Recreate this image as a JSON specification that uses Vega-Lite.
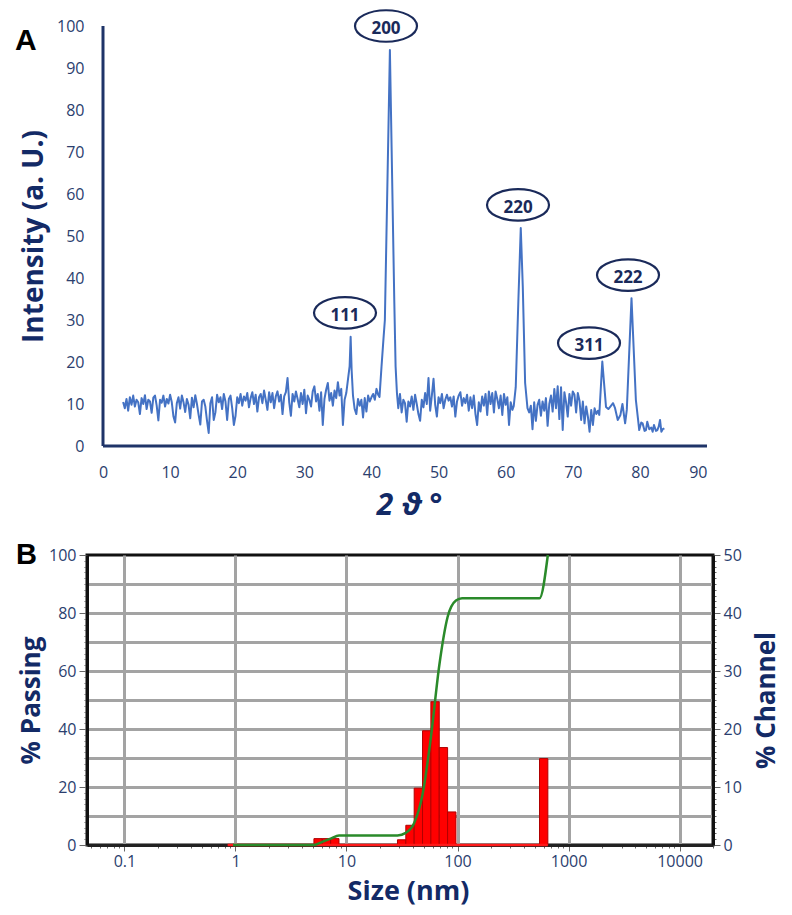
{
  "$schema": "https://vega.github.io/schema/vega-lite/v6.json",
  "padding": {"left": 14, "top": 5, "right": 5, "bottom": 5},
  "background": "white",
  "bounds": "flush",
  "spacing": 109,
  "config": {
    "font": "Open Sans",
    "view": {"stroke": null},
    "axis": {
      "labelFont": "Open Sans",
      "labelFontSize": 16,
      "labelColor": "#2b3e6e",
      "titleFont": "Open Sans",
      "titleColor": "#132a66",
      "titleFontWeight": "bold"
    }
  },
  "datasets": {
    "xrd": [
      {"t":3.00,"i":10.5},{"t":3.25,"i":9.0},{"t":3.50,"i":11.2},{"t":3.75,"i":8.4},{"t":4.00,"i":11.6},{"t":4.25,"i":9.8},{"t":4.50,"i":12.0},{"t":4.75,"i":9.4},
      {"t":5.00,"i":11.0},{"t":5.25,"i":10.4},{"t":5.50,"i":7.6},{"t":5.75,"i":11.4},{"t":6.00,"i":10.0},{"t":6.25,"i":12.1},{"t":6.50,"i":8.8},{"t":6.75,"i":11.0},
      {"t":7.00,"i":10.6},{"t":7.25,"i":7.9},{"t":7.50,"i":11.5},{"t":7.75,"i":12.0},{"t":8.00,"i":9.6},{"t":8.25,"i":6.1},{"t":8.50,"i":11.0},{"t":8.75,"i":10.3},
      {"t":9.00,"i":12.0},{"t":9.25,"i":9.4},{"t":9.50,"i":11.2},{"t":9.75,"i":10.1},{"t":10.00,"i":12.2},{"t":10.25,"i":10.4},{"t":10.50,"i":7.0},{"t":10.75,"i":5.6},
      {"t":11.00,"i":10.2},{"t":11.25,"i":11.6},{"t":11.50,"i":8.9},{"t":11.75,"i":12.0},{"t":12.00,"i":10.4},{"t":12.25,"i":8.1},{"t":12.50,"i":11.2},{"t":12.75,"i":9.8},
      {"t":13.00,"i":6.6},{"t":13.25,"i":11.5},{"t":13.50,"i":9.2},{"t":13.75,"i":12.1},{"t":14.00,"i":10.0},{"t":14.25,"i":7.4},{"t":14.50,"i":5.1},{"t":14.75,"i":10.6},
      {"t":15.00,"i":11.0},{"t":15.25,"i":9.4},{"t":15.50,"i":6.0},{"t":15.75,"i":3.1},{"t":16.00,"i":10.2},{"t":16.25,"i":11.6},{"t":16.50,"i":6.2},{"t":16.75,"i":8.0},
      {"t":17.00,"i":12.2},{"t":17.25,"i":10.4},{"t":17.50,"i":11.6},{"t":17.75,"i":8.8},{"t":18.00,"i":12.4},{"t":18.25,"i":10.6},{"t":18.50,"i":6.2},{"t":18.75,"i":11.2},
      {"t":19.00,"i":12.0},{"t":19.25,"i":9.0},{"t":19.50,"i":5.0},{"t":19.75,"i":7.2},{"t":20.00,"i":11.6},{"t":20.25,"i":10.2},{"t":20.50,"i":12.4},{"t":20.75,"i":9.6},
      {"t":21.00,"i":11.8},{"t":21.25,"i":10.8},{"t":21.50,"i":12.6},{"t":21.75,"i":9.2},{"t":22.00,"i":11.4},{"t":22.25,"i":12.8},{"t":22.50,"i":10.0},{"t":22.75,"i":12.2},
      {"t":23.00,"i":8.2},{"t":23.25,"i":11.6},{"t":23.50,"i":12.4},{"t":23.75,"i":10.2},{"t":24.00,"i":13.2},{"t":24.25,"i":11.0},{"t":24.50,"i":8.6},{"t":24.75,"i":12.8},
      {"t":25.00,"i":10.4},{"t":25.25,"i":12.6},{"t":25.50,"i":9.0},{"t":25.75,"i":11.8},{"t":26.00,"i":13.0},{"t":26.25,"i":10.6},{"t":26.50,"i":12.2},{"t":26.75,"i":7.6},
      {"t":27.00,"i":11.8},{"t":27.25,"i":12.8},{"t":27.50,"i":16.2},{"t":27.75,"i":10.4},{"t":28.00,"i":7.2},{"t":28.25,"i":12.4},{"t":28.50,"i":10.6},{"t":28.75,"i":13.0},
      {"t":29.00,"i":11.2},{"t":29.25,"i":9.2},{"t":29.50,"i":12.6},{"t":29.75,"i":10.0},{"t":30.00,"i":13.4},{"t":30.25,"i":7.8},{"t":30.50,"i":12.0},{"t":30.75,"i":11.0},
      {"t":31.00,"i":9.4},{"t":31.25,"i":13.0},{"t":31.50,"i":14.2},{"t":31.75,"i":10.6},{"t":32.00,"i":12.4},{"t":32.25,"i":8.4},{"t":32.50,"i":12.8},{"t":32.75,"i":5.0},
      {"t":33.00,"i":11.2},{"t":33.25,"i":13.4},{"t":33.50,"i":15.0},{"t":33.75,"i":10.8},{"t":34.00,"i":12.6},{"t":34.25,"i":9.6},{"t":34.50,"i":13.2},{"t":34.75,"i":11.4},
      {"t":35.00,"i":15.2},{"t":35.25,"i":12.0},{"t":35.50,"i":13.6},{"t":35.75,"i":5.0},{"t":36.00,"i":11.0},{"t":36.25,"i":12.6},{"t":36.50,"i":15.8},{"t":36.75,"i":19.0},
      {"t":36.90,"i":26.0},{"t":37.05,"i":18.0},{"t":37.25,"i":12.0},{"t":37.50,"i":8.8},{"t":37.75,"i":7.6},{"t":38.00,"i":11.2},{"t":38.25,"i":9.6},{"t":38.50,"i":11.0},{"t":38.75,"i":6.8},
      {"t":39.00,"i":11.4},{"t":39.25,"i":8.2},{"t":39.50,"i":12.0},{"t":39.75,"i":10.6},{"t":40.00,"i":11.6},{"t":40.25,"i":12.4},{"t":40.50,"i":11.0},{"t":40.75,"i":13.6},
      {"t":41.00,"i":12.2},{"t":41.20,"i":11.7},{"t":41.50,"i":18.9},{"t":41.80,"i":25.7},{"t":42.00,"i":30.0},{"t":42.75,"i":94.3},{"t":43.40,"i":34.8},{"t":43.60,"i":18.9},{"t":43.80,"i":12.6},
      {"t":44.00,"i":9.0},{"t":44.25,"i":12.4},{"t":44.50,"i":8.0},{"t":44.75,"i":11.0},{"t":45.00,"i":10.2},{"t":45.25,"i":5.8},{"t":45.50,"i":10.6},{"t":45.75,"i":9.4},
      {"t":46.00,"i":11.8},{"t":46.25,"i":8.6},{"t":46.50,"i":12.2},{"t":46.75,"i":10.0},{"t":47.00,"i":7.6},{"t":47.25,"i":6.0},{"t":47.50,"i":11.0},{"t":47.75,"i":9.2},
      {"t":48.00,"i":12.6},{"t":48.25,"i":10.0},{"t":48.50,"i":16.2},{"t":48.75,"i":8.4},{"t":49.00,"i":12.0},{"t":49.25,"i":16.0},{"t":49.50,"i":9.8},{"t":49.75,"i":7.0},
      {"t":50.00,"i":11.6},{"t":50.25,"i":10.2},{"t":50.50,"i":12.4},{"t":50.75,"i":9.0},{"t":51.00,"i":11.0},{"t":51.25,"i":12.2},{"t":51.50,"i":10.8},{"t":51.75,"i":11.6},
      {"t":52.00,"i":9.4},{"t":52.25,"i":11.8},{"t":52.50,"i":7.0},{"t":52.75,"i":10.6},{"t":53.00,"i":12.0},{"t":53.25,"i":12.8},{"t":53.50,"i":9.6},{"t":53.75,"i":11.4},
      {"t":54.00,"i":10.2},{"t":54.25,"i":12.2},{"t":54.50,"i":8.4},{"t":54.75,"i":11.6},{"t":55.00,"i":9.0},{"t":55.25,"i":12.0},{"t":55.50,"i":7.6},{"t":55.75,"i":5.0},
      {"t":56.00,"i":10.4},{"t":56.25,"i":8.2},{"t":56.50,"i":11.8},{"t":56.75,"i":9.6},{"t":57.00,"i":12.4},{"t":57.25,"i":7.4},{"t":57.50,"i":13.0},{"t":57.75,"i":10.0},
      {"t":58.00,"i":12.6},{"t":58.25,"i":8.0},{"t":58.50,"i":13.0},{"t":58.75,"i":11.2},{"t":59.00,"i":9.0},{"t":59.25,"i":12.0},{"t":59.50,"i":7.4},{"t":59.75,"i":12.4},
      {"t":60.00,"i":9.8},{"t":60.25,"i":11.6},{"t":60.50,"i":5.0},{"t":60.75,"i":10.4},{"t":61.00,"i":8.6},{"t":61.20,"i":9.5},{"t":61.50,"i":14.0},{"t":61.90,"i":35.0},
      {"t":62.25,"i":51.9},{"t":62.55,"i":38.0},{"t":62.90,"i":15.0},{"t":63.25,"i":9.0},
      {"t":63.50,"i":8.0},{"t":63.75,"i":9.6},{"t":64.00,"i":4.0},{"t":64.25,"i":10.4},{"t":64.50,"i":6.0},{"t":64.75,"i":9.8},{"t":65.00,"i":11.0},{"t":65.25,"i":7.2},
      {"t":65.50,"i":10.6},{"t":65.75,"i":8.4},{"t":66.00,"i":11.4},{"t":66.25,"i":4.8},{"t":66.50,"i":10.0},{"t":66.75,"i":12.0},{"t":67.00,"i":8.2},{"t":67.25,"i":13.6},
      {"t":67.50,"i":9.0},{"t":67.75,"i":14.2},{"t":68.00,"i":6.4},{"t":68.25,"i":14.0},{"t":68.50,"i":3.8},{"t":68.75,"i":12.8},{"t":69.00,"i":10.4},{"t":69.25,"i":7.0},
      {"t":69.50,"i":12.4},{"t":69.75,"i":9.6},{"t":70.00,"i":13.0},{"t":70.25,"i":12.2},{"t":70.50,"i":8.0},{"t":70.75,"i":12.6},{"t":71.00,"i":10.8},{"t":71.25,"i":6.2},
      {"t":71.50,"i":10.6},{"t":71.75,"i":5.4},{"t":72.00,"i":9.4},{"t":72.25,"i":7.0},{"t":72.50,"i":3.4},{"t":72.75,"i":8.6},{"t":73.00,"i":5.0},{"t":73.25,"i":9.0},
      {"t":73.50,"i":7.6},{"t":73.75,"i":8.4},{"t":73.95,"i":7.4},{"t":74.40,"i":20.1},{"t":74.95,"i":9.3},{"t":75.30,"i":8.8},{"t":75.60,"i":9.4},{"t":76.00,"i":10.2},
      {"t":76.30,"i":9.0},{"t":76.70,"i":6.2},{"t":77.10,"i":7.4},{"t":77.40,"i":10.0},{"t":77.80,"i":5.4},{"t":78.05,"i":8.6},{"t":78.75,"i":35.2},{"t":79.40,"i":11.0},
      {"t":79.70,"i":6.7},{"t":79.90,"i":3.8},{"t":80.20,"i":5.6},{"t":80.40,"i":5.4},{"t":80.70,"i":3.6},{"t":80.90,"i":3.8},{"t":81.10,"i":5.8},{"t":81.40,"i":4.0},
      {"t":81.70,"i":4.4},{"t":81.90,"i":3.4},{"t":82.10,"i":5.0},{"t":82.40,"i":3.6},{"t":82.60,"i":3.8},{"t":82.80,"i":4.6},{"t":83.00,"i":6.2},{"t":83.20,"i":3.4},
      {"t":83.40,"i":4.0},{"t":83.65,"i":4.2}
    ],
    "hkl": [
      {"t":36.06,"i":31.7,"hkl":"111"},
      {"t":42.17,"i":100,"hkl":"200"},
      {"t":61.84,"i":57.4,"hkl":"220"},
      {"t":72.42,"i":24.5,"hkl":"311"},
      {"t":78.23,"i":40.7,"hkl":"222"}
    ],
    "axesA": [{"t":0,"t2":90,"i":0,"i2":100}],
    "labelA": [{"t":-11.5,"i":96.4,"lab":"A"}],
    "psd": [
      {"lo":5.09,"hi":6.05,"pct":1.1},
      {"lo":6.05,"hi":7.20,"pct":1.1},
      {"lo":7.20,"hi":8.56,"pct":1.1},
      {"lo":28.78,"hi":34.22,"pct":0.9},
      {"lo":34.22,"hi":40.70,"pct":3.4},
      {"lo":40.70,"hi":48.40,"pct":9.8},
      {"lo":48.40,"hi":57.55,"pct":19.7},
      {"lo":57.55,"hi":68.44,"pct":24.7},
      {"lo":68.44,"hi":81.39,"pct":16.8},
      {"lo":81.39,"hi":96.79,"pct":5.7},
      {"lo":547.5,"hi":651.0,"pct":14.9}
    ],
    "base": [{"lo":0.85,"hi":651,"pct":0}],
    "cum": [
      {"lo":0.95,"p":0},{"lo":5.09,"p":0},{"lo":6.05,"p":1.1},{"lo":7.2,"p":2.2},{"lo":8.56,"p":3.3},
      {"lo":28.78,"p":3.3},{"lo":34.22,"p":4.2},{"lo":40.7,"p":7.6},{"lo":48.4,"p":17.4},{"lo":57.55,"p":37.1},
      {"lo":68.44,"p":61.8},{"lo":81.39,"p":78.6},{"lo":96.79,"p":84.3},{"lo":110,"p":85.1},{"lo":547.5,"p":85.1},{"lo":651,"p":100}
    ],
    "labelB": [{"lo":0.0131,"p":100,"lab":"B"}]
  },
  "vconcat": [
    {
      "width": 620,
      "height": 420,
      "layer": [
        {
          "data": {"name": "xrd"},
          "mark": {"type": "line", "color": "#4472c4", "strokeWidth": 2, "strokeJoin": "round"},
          "encoding": {
            "x": {
              "field": "t", "type": "quantitative",
              "scale": {"domain": [-2.384, 90], "nice": false, "zero": false},
              "axis": {
                "values": [0,10,20,30,40,50,60,70,80,90],
                "format": "d",
                "domain": false, "ticks": false, "grid": false,
                "labelPadding": 18,
                "title": "2 ϑ °", "titleFontSize": 30, "titleFontStyle": "italic",
                "titlePadding": 10, "titleX": 322
              }
            },
            "y": {
              "field": "i", "type": "quantitative",
              "scale": {"domain": [0, 100], "nice": false, "zero": false},
              "axis": {
                "values": [0,10,20,30,40,50,60,70,80,90,100],
                "tickCount": 1000,
                "format": "d",
                "domain": false, "ticks": false, "grid": false,
                "labelPadding": 3,
                "title": "Intensity (a. U.)", "titleFontSize": 28, "titlePadding": 8
              }
            }
          }
        },
        {
          "data": {"name": "axesA"},
          "mark": {"type": "rule", "color": "#1f3468", "strokeWidth": 3},
          "encoding": {
            "x": {"field": "t", "type": "quantitative", "scale": {"domain": [-2.384, 90], "nice": false, "zero": false}},
            "x2": {"field": "t2"},
            "y": {"field": "i", "type": "quantitative", "scale": {"domain": [0, 100], "nice": false, "zero": false}}
          }
        },
        {
          "data": {"name": "axesA"},
          "mark": {"type": "rule", "color": "#1f3468", "strokeWidth": 3},
          "encoding": {
            "x": {"field": "t", "type": "quantitative", "scale": {"domain": [-2.384, 90], "nice": false, "zero": false}},
            "y": {"field": "i", "type": "quantitative", "scale": {"domain": [0, 100], "nice": false, "zero": false}},
            "y2": {"field": "i2"}
          }
        },
        {
          "data": {"name": "hkl"},
          "mark": {
            "type": "point", "filled": false, "opacity": 1,
            "shape": "M-1,0C-1,-0.2805,-0.5523,-0.508,0,-0.508C0.5523,-0.508,1,-0.2805,1,0C1,0.2805,0.5523,0.508,0,0.508C-0.5523,0.508,-1,0.2805,-1,0Z",
            "size": 3844, "stroke": "#1a2a5a", "strokeWidth": 2.2
          },
          "encoding": {
            "x": {"field": "t", "type": "quantitative", "scale": {"domain": [-2.384, 90], "nice": false, "zero": false}},
            "y": {"field": "i", "type": "quantitative", "scale": {"domain": [0, 100], "nice": false, "zero": false}}
          }
        },
        {
          "data": {"name": "hkl"},
          "mark": {"type": "text", "font": "Open Sans", "fontWeight": "bold", "fontSize": 17, "color": "#1a2a5a", "dy": 3},
          "encoding": {
            "x": {"field": "t", "type": "quantitative", "scale": {"domain": [-2.384, 90], "nice": false, "zero": false}},
            "y": {"field": "i", "type": "quantitative", "scale": {"domain": [0, 100], "nice": false, "zero": false}},
            "text": {"field": "hkl"}
          }
        },
        {
          "data": {"name": "labelA"},
          "mark": {"type": "text", "font": "Liberation Sans", "fontWeight": "bold", "fontSize": 30, "color": "#000000", "align": "center", "baseline": "middle"},
          "encoding": {
            "x": {"field": "t", "type": "quantitative", "scale": {"domain": [-2.384, 90], "nice": false, "zero": false}},
            "y": {"field": "i", "type": "quantitative", "scale": {"domain": [0, 100], "nice": false, "zero": false}},
            "text": {"field": "lab"}
          }
        }
      ]
    },
    {
      "width": 626,
      "height": 290,
      "view": {"stroke": "#111111", "strokeWidth": 3},
      "resolve": {"scale": {"y": "independent"}, "axis": {"y": "independent"}},
      "layer": [
        {
          "layer": [
            {
              "data": {"name": "psd"},
              "mark": {"type": "rect", "fill": "#ff0000", "stroke": "#b00000", "strokeWidth": 1},
              "encoding": {
                "x": {
                  "field": "lo", "type": "quantitative",
                  "scale": {"type": "log", "domain": [0.046, 20000], "nice": false},
                  "axis": {
                    "values": [0.05,0.06,0.07,0.08,0.09,0.1,0.2,0.3,0.4,0.5,0.6,0.7,0.8,0.9,1,2,3,4,5,6,7,8,9,10,20,30,40,50,60,70,80,90,100,200,300,400,500,600,700,800,900,1000,2000,3000,4000,5000,6000,7000,8000,9000,10000,20000],
                    "tickCount": 1000,
                    "labelExpr": "abs(log(datum.value)/LN10 - round(log(datum.value)/LN10)) < 1e-6 ? format(datum.value, '~g') : ''",
                    "labelOverlap": false, "labelBound": false,
                    "grid": true, "gridColor": "#a3a3a3", "gridWidth": 3,
                    "gridOpacity": {"condition": {"test": "abs(log(datum.value)/LN10 - round(log(datum.value)/LN10)) < 1e-6", "value": 1}, "value": 0},
                    "tickSize": {"condition": {"test": "abs(log(datum.value)/LN10 - round(log(datum.value)/LN10)) < 1e-6", "value": 6}, "value": 3},
                    "tickColor": "#666666",
                    "domainColor": "#222222", "domainWidth": 3,
                    "labelPadding": 2,
                    "title": "Size (nm)", "titleFontSize": 27, "titlePadding": 9, "titleX": 321
                  }
                },
                "x2": {"field": "hi"},
                "y": {
                  "field": "pct", "type": "quantitative",
                  "scale": {"domain": [0, 50], "nice": false, "zero": true},
                  "axis": {
                    "orient": "right",
                    "values": [0,1,2,3,4,5,6,7,8,9,10,11,12,13,14,15,16,17,18,19,20,21,22,23,24,25,26,27,28,29,30,31,32,33,34,35,36,37,38,39,40,41,42,43,44,45,46,47,48,49,50],
                    "tickCount": 1000,
                    "format": "d",
                    "labelExpr": "datum.value % 10 === 0 ? datum.label : ''",
                    "labelOverlap": false, "labelBound": false,
                    "grid": false,
                    "tickSize": {"condition": {"test": "datum.value % 10 === 0", "value": 7}, "value": 3},
                    "tickColor": "#666666",
                    "domainColor": "#111111", "domainWidth": 3,
                    "labelPadding": 3,
                    "title": "% Channel", "titleFontSize": 26, "titleAngle": 270, "titleBaseline": "top", "titlePadding": 12
                  }
                },
                "y2": {"datum": 0}
              }
            },
            {
              "data": {"name": "base"},
              "mark": {"type": "rule", "color": "#ff1a1a", "strokeWidth": 2.5},
              "encoding": {
                "x": {"field": "lo", "type": "quantitative", "scale": {"type": "log", "domain": [0.046, 20000], "nice": false}},
                "x2": {"field": "hi"},
                "y": {"field": "pct", "type": "quantitative", "scale": {"domain": [0, 50], "nice": false, "zero": true}}
              }
            }
          ]
        },
        {
          "layer": [
            {
              "data": {"name": "cum"},
              "mark": {"type": "line", "color": "#2a8a2a", "strokeWidth": 2.5, "interpolate": "monotone"},
              "encoding": {
                "x": {"field": "lo", "type": "quantitative", "scale": {"type": "log", "domain": [0.046, 20000], "nice": false}},
                "y": {
                  "field": "p", "type": "quantitative",
                  "scale": {"domain": [0, 100], "nice": false, "zero": true},
                  "axis": {
                    "orient": "left",
                    "values": [0,2,4,6,8,10,12,14,16,18,20,22,24,26,28,30,32,34,36,38,40,42,44,46,48,50,52,54,56,58,60,62,64,66,68,70,72,74,76,78,80,82,84,86,88,90,92,94,96,98,100],
                    "tickCount": 1000,
                    "format": "d",
                    "labelExpr": "datum.value % 20 === 0 ? datum.label : ''",
                    "labelOverlap": false, "labelBound": false,
                    "grid": true, "gridColor": "#a3a3a3", "gridWidth": 3,
                    "gridOpacity": {"condition": {"test": "datum.value % 10 === 0 && datum.value > 0 && datum.value < 100", "value": 1}, "value": 0},
                    "tickSize": {"condition": {"test": "datum.value % 20 === 0", "value": 8}, "value": 3},
                    "tickColor": "#666666",
                    "domainColor": "#111111", "domainWidth": 3,
                    "labelPadding": 3,
                    "title": "% Passing", "titleFontSize": 26, "titlePadding": 4
                  }
                }
              }
            },
            {
              "data": {"name": "labelB"},
              "mark": {"type": "text", "font": "Liberation Sans", "fontWeight": "bold", "fontSize": 29, "color": "#000000", "align": "center", "baseline": "middle"},
              "encoding": {
                "x": {"field": "lo", "type": "quantitative", "scale": {"type": "log", "domain": [0.046, 20000], "nice": false}},
                "y": {"field": "p", "type": "quantitative", "scale": {"domain": [0, 100], "nice": false, "zero": true}},
                "text": {"field": "lab"}
              }
            }
          ]
        }
      ]
    }
  ]
}
